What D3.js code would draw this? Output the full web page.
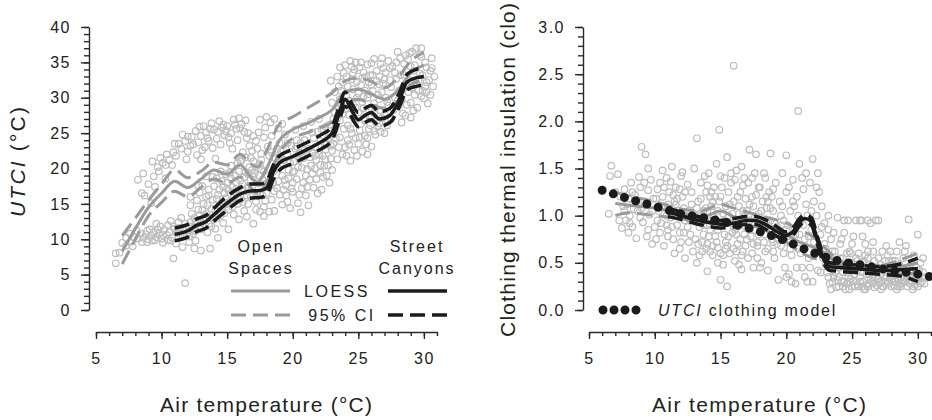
<!DOCTYPE html>
<html>
<head>
<meta charset="utf-8">
<script src="https://d3js.org/d3.v7.min.js"></script>
<style>
  body { margin: 0; background: #fff; }
  svg { font-family: "Liberation Sans", Arial, sans-serif; }
</style>
</head>
<body>
<svg id="chart" width="932" height="420"></svg>
<script>
// ---- data: UTCI panel ----
const utciPoints = [
  [6.5,8.0],[6.8,8.1],[6.5,6.6],[7.3,9.1],[7.6,9.6],[7.9,10.3],[8.2,10.1],[8.4,10.8],[7.8,9.0],[8.1,11.2],[7.6,10.8],
  [8.2,18.4],[8.6,19.3],[8.5,16.5],[8.7,16.2],[9.0,17.8],[9.3,21.0],[9.2,15.1],[9.5,17.4],[9.4,18.9],[9.9,21.5],[10.1,20.8],
  [10.4,22.0],[10.6,21.2],[10.9,22.3],[10.8,20.5],[11.3,23.5],[11.1,21.8],[9.8,19.6],[10.3,18.6],[11.5,22.8],[11.8,23.9],
  [12.0,22.4],[12.2,23.2],[11.9,21.3],
  [8.6,10.2],[8.8,10.7],[9.0,10.0],[9.2,10.5],[9.4,11.0],[9.6,10.3],[9.8,10.8],[10.0,10.1],[10.2,11.3],[10.4,10.6],[10.6,11.0],
  [10.8,10.2],[11.0,11.5],[11.2,10.9],[11.4,11.6],[11.6,10.4],[11.8,12.2],[12.0,11.0],[12.2,12.4],[12.4,11.6],[9.1,11.4],
  [9.9,11.8],[10.5,12.0],[11.3,12.4],[10.1,9.5],[11.1,9.4],[12.1,9.6],[11.6,8.9],[12.6,9.8],[10.9,7.3],[11.8,3.8],[13.0,8.4],
  [13.7,8.7],[12.5,8.7],[8.9,9.6],[9.5,9.9],[10.7,9.8],[11.9,10.7],
  [12.3,24.5],[12.6,25.3],[12.8,23.7],[13.0,24.6],[13.2,26.0],[13.4,25.1],[13.6,23.9],[13.8,26.4],[14.0,25.5],[14.2,24.2],
  [14.4,26.7],[14.6,25.8],[14.8,24.7],[15.0,26.0],[15.3,25.0],[15.5,26.9],[15.7,25.6],[15.9,27.1],[16.1,26.3],[16.3,25.2],
  [16.5,24.3],[16.7,23.2],[16.9,22.5],[13.1,22.6],[13.9,22.9],[14.5,23.4],[15.2,23.6],[15.8,24.0],[16.2,22.3],[16.8,21.5],
  [12.7,21.9],[14.1,21.4],[16.0,21.0],[17.2,23.9],[17.4,25.1],[17.6,22.1],[17.8,24.4],[18.0,27.3],[18.3,26.5],[18.6,27.0],
  [18.9,25.7],[19.2,26.3],[17.5,26.9],[18.1,23.1],[15.6,26.2],[14.9,25.3],[16.4,26.8],[13.5,24.3],
  [12.5,13.0],[12.8,14.2],[13.0,12.3],[13.2,15.0],[13.4,13.6],[13.6,16.2],[13.8,14.3],[14.0,12.8],[14.2,15.7],[14.4,17.0],
  [14.6,14.1],[14.8,16.5],[15.0,18.0],[15.2,15.3],[15.4,17.4],[15.6,19.0],[15.8,16.0],[16.0,18.3],[16.2,15.2],[16.4,19.5],
  [16.6,17.5],[16.8,16.0],[17.0,18.8],[17.2,15.3],[17.4,17.9],[17.6,19.9],[17.8,14.6],[18.0,16.5],[18.2,13.9],[18.4,15.6],
  [13.1,17.5],[13.9,18.8],[14.5,19.6],[15.3,20.4],[16.1,21.2],[14.1,11.5],[14.7,12.3],[15.5,13.5],[16.3,14.0],[17.0,12.2],
  [12.2,14.8],[12.9,16.6],[13.5,11.0],[14.3,10.2],[15.1,11.4],[15.9,12.8],[16.5,13.2],[17.5,13.9],[18.6,14.0],[18.8,17.2],
  [14.9,19.2],[15.7,17.1],[16.9,19.8],[13.3,13.1],[14.6,15.2],[16.3,16.8],[17.7,16.2],[15.1,14.2],
  [18.5,19.5],[18.7,21.4],[18.9,18.2],[19.1,20.6],[19.3,22.5],[19.5,17.6],[19.7,19.8],[19.9,23.2],[20.1,21.0],[20.3,18.5],
  [20.5,22.2],[20.7,20.1],[20.9,24.0],[21.1,17.4],[21.3,21.6],[21.5,19.3],[21.7,23.0],[21.9,25.2],[22.1,20.5],[22.3,18.8],
  [22.5,22.7],[22.7,24.3],[22.9,21.4],[19.0,16.3],[19.6,15.3],[20.0,16.7],[20.4,15.1],[21.0,16.2],[21.6,17.3],[22.2,17.0],
  [22.6,19.0],[19.4,24.8],[20.2,25.5],[20.8,26.0],[21.4,26.6],[22.0,27.0],[22.8,26.2],[23.0,19.8],[19.8,14.4],[21.2,14.8],
  [20.6,13.8],[19.2,19.0],[20.0,19.5],[20.8,18.0],[21.8,21.2],[22.4,23.6],[19.6,21.9],
  [23.1,23.5],[23.3,26.0],[23.5,28.5],[23.7,31.0],[23.9,33.5],[24.1,30.2],[24.3,27.6],[24.5,25.0],[24.7,22.6],[24.9,32.3],
  [25.1,34.3],[25.3,29.4],[25.5,26.8],[25.7,24.3],[25.9,33.2],[26.1,31.0],[26.3,28.6],[26.5,25.9],[26.7,34.8],[26.9,32.0],
  [23.2,30.8],[23.4,33.0],[23.6,24.4],[23.8,22.0],[24.0,34.6],[24.2,24.0],[24.4,21.1],[24.6,29.0],[24.8,35.0],[25.0,23.5],
  [25.2,31.8],[25.4,33.6],[25.6,28.0],[25.8,30.5],[26.0,23.1],[26.2,35.5],[26.4,33.8],[26.6,29.8],[26.8,27.1],[27.0,25.0],
  [23.0,29.3],[23.8,27.7],[24.5,32.6],[25.3,22.4],[26.0,27.4],[26.6,31.9],[27.1,33.6],[27.3,28.9],[27.5,31.5],[27.2,26.1],
  [23.4,21.3],[24.1,21.8],[22.9,32.4],[24.7,34.0],[25.7,34.7],[24.2,26.1],[25.0,27.9],[26.2,25.3],[23.6,26.8],[25.5,31.0],
  [27.6,34.5],[27.8,30.0],[28.0,36.5],[28.2,33.2],[28.4,27.8],[28.6,31.9],[28.8,35.4],[29.0,29.3],[29.2,33.8],[29.4,37.0],
  [29.6,31.0],[29.8,35.8],[30.0,29.9],[30.2,34.3],[30.4,32.5],[30.6,35.6],[30.8,33.0],[28.1,28.9],[28.5,34.8],[28.9,32.5],
  [29.3,30.4],[29.7,36.1],[30.1,31.6],[30.5,30.4],[28.3,26.5],[27.9,32.7],[29.1,36.5],[29.9,33.2]
];
const utciPointsDense = [
  [12.3,11.8],[12.6,12.6],[12.9,13.4],[13.1,14.1],[13.3,12.0],[13.5,14.8],[13.7,13.0],[13.9,15.6],[14.1,14.0],[14.3,16.3],
  [14.5,13.4],[14.7,17.4],[14.9,15.8],[15.1,16.9],[15.3,18.6],[15.5,15.9],[15.7,18.0],[15.9,19.6],[16.1,17.0],[16.3,18.8],
  [16.5,16.2],[16.7,20.2],[16.9,17.2],[17.1,19.3],[17.3,16.6],[17.5,20.6],[17.7,18.4],[17.9,15.4],[18.1,19.0],[18.3,17.6],
  [12.4,10.8],[13.0,11.4],[13.6,12.2],[14.2,13.0],[14.8,13.7],[15.4,14.6],[16.0,15.6],[16.6,15.0],[17.2,14.2],[17.8,13.3],
  [12.7,15.5],[13.4,16.0],[14.0,17.5],[14.6,18.2],[15.2,19.4],[15.8,20.8],[16.4,21.6],[17.0,21.0],[17.6,21.2],[18.2,21.8],
  [12.4,23.4],[12.9,25.9],[13.3,23.0],[13.7,25.6],[14.3,25.2],[14.7,26.2],[15.1,24.4],[15.4,22.8],[16.0,25.7],[16.6,25.0],
  [17.0,24.6],[17.3,22.8],[17.9,25.8],[18.4,24.6],[13.0,21.3],[12.0,24.5],[11.6,24.8],[11.0,23.5],[10.3,20.5],[9.7,20.2],
  [18.6,16.8],[18.8,22.8],[19.0,21.7],[19.2,14.9],[19.4,18.4],[19.6,23.6],[19.8,20.8],[20.0,18.0],[20.2,22.8],[20.4,20.2],
  [20.6,23.6],[20.8,21.5],[21.0,19.0],[21.2,22.8],[21.4,20.4],[21.6,24.3],[21.8,18.5],[22.0,22.0],[22.2,25.6],[22.4,20.4],
  [22.6,23.4],[22.8,18.0],[23.0,22.5],[19.3,17.0],[19.9,17.2],[20.5,16.3],[21.1,19.9],[21.7,20.0],[22.3,21.8],[22.9,24.8],
  [20.3,24.0],[21.5,22.3],[22.1,23.9],[18.4,22.3],[19.0,23.6],
  [23.1,27.0],[23.3,24.2],[23.5,31.6],[23.7,28.8],[23.9,25.6],[24.1,33.0],[24.3,29.6],[24.5,34.4],[24.7,27.0],[24.9,30.0],
  [25.1,25.4],[25.3,32.8],[25.5,24.6],[25.7,30.0],[25.9,27.2],[26.1,33.2],[26.3,24.8],[26.5,30.4],[26.7,28.2],[26.9,34.2],
  [27.1,30.0],[27.3,35.2],[23.6,34.3],[24.4,35.2],[25.2,35.0],[26.0,34.9],[26.8,35.6],[23.2,25.4],[24.0,23.0],[24.8,24.3],
  [25.6,23.4],[26.4,26.8],[27.0,27.6],[24.6,31.2],[25.4,28.5],[26.2,29.2],[23.9,29.0],[25.0,33.0],[25.8,32.2],[26.6,33.0],
  [27.4,32.5],[27.7,28.3],[27.9,35.0],[28.1,31.0],[28.3,29.8],[28.5,33.2],[28.7,29.0],[28.9,36.3],[29.1,31.4],[29.3,34.6],
  [29.5,28.6],[29.7,33.4],[29.9,31.0],[30.1,35.0],[30.3,29.2],[30.5,33.8],[30.7,31.6],[28.6,27.5],[29.0,27.2],[29.4,32.0],
  [29.8,30.2],[30.2,32.2],[28.2,35.6],[28.8,30.8],
  [8.5,9.6],[8.9,11.2],[9.3,9.8],[9.7,11.4],[10.1,10.6],[10.5,9.9],[10.9,11.8],[11.3,10.2],[11.7,11.2],[12.1,10.4],
  [12.5,11.2],[9.6,12.2],[10.7,12.6],[11.5,13.0],[12.3,13.6],[7.3,10.2],[7.0,9.5]
];
const utciPointsCore = [
  [23.2,28.0],[23.4,27.1],[23.6,29.8],[23.8,32.2],[24.0,28.4],[24.2,31.6],[24.4,25.6],[24.6,33.5],[24.8,28.6],[25.0,30.6],
  [25.2,26.3],[25.4,30.2],[25.6,33.0],[25.8,25.6],[26.0,31.8],[26.2,27.8],[26.4,32.4],[26.6,26.4],[26.8,30.8],[27.0,32.6],
  [27.2,29.4],[27.4,34.2],[23.5,23.0],[24.3,23.4],[25.1,24.4],[25.9,26.1],[26.7,25.2],[27.5,27.0],[24.9,21.8],[25.7,22.0],
  [18.5,18.0],[18.9,20.0],[19.3,21.2],[19.7,18.6],[20.1,19.6],[20.5,21.2],[20.9,22.6],[21.3,18.4],[21.7,21.8],[22.1,19.4],
  [22.5,21.3],[22.9,23.2],[19.5,16.2],[20.7,17.2],[21.9,16.5],[22.7,20.4],[19.1,22.4],[20.3,23.1],[21.5,25.1],[22.5,25.9],
  [12.6,11.2],[13.2,12.8],[13.8,11.8],[14.4,14.8],[15.0,15.0],[15.6,16.6],[16.2,17.8],[16.8,18.4],[17.4,19.0],[18.0,17.9],
  [13.6,17.0],[14.2,18.6],[15.0,17.2],[15.8,15.0],[16.6,19.2],[17.2,20.2],[17.8,19.6],[12.2,16.0],[12.8,17.6],[13.4,18.9],
  [27.8,33.5],[28.4,31.2],[29.0,34.4],[29.6,32.4],[30.2,30.8],[28.0,29.6],[29.2,28.2],[30.6,34.2],[28.6,36.0],[29.8,37.0]
];

const openX    = [7, 8, 9, 10, 11, 12, 13, 14, 15, 16, 16.7, 17.3, 18, 19, 20, 21, 22, 23, 24, 25, 26, 27, 28, 29, 30];
const openFit  = [8.3, 11.5, 14.5, 16.5, 18.2, 17.3, 18.5, 19.8, 19.2, 20.5, 19.0, 18.0, 20.0, 24.0, 25.5, 26.3, 27.2, 28.3, 30.8, 31.2, 30.5, 29.8, 31.0, 33.5, 34.6];
const openUp   = [10.5, 13.0, 15.5, 17.8, 19.8, 18.7, 19.6, 20.9, 20.5, 22.0, 20.8, 20.2, 22.5, 26.3, 27.3, 28.4, 29.5, 30.7, 32.4, 32.8, 32.3, 31.4, 32.8, 35.2, 36.4];
const openLow  = [6.5, 10.0, 13.3, 15.2, 16.8, 16.0, 17.3, 18.5, 17.9, 18.8, 17.5, 16.5, 18.0, 22.3, 24.3, 25.0, 25.7, 26.6, 29.4, 29.8, 29.0, 28.5, 29.6, 31.8, 32.5];

const canyonX   = [11, 12, 12.7, 13.4, 14, 15, 16, 16.7, 17.5, 18, 18.5, 19, 20, 21, 22, 23, 23.5, 24, 24.5, 25, 25.5, 26, 26.6, 27.4, 28.2, 28.7, 29.4, 30];
const canyonFit = [10.7, 11.2, 12.0, 12.5, 13.5, 15.1, 16.4, 16.8, 16.9, 17.2, 19.4, 20.8, 21.7, 22.6, 23.6, 25.0, 27.5, 29.8, 28.2, 26.9, 27.5, 27.9, 27.0, 27.5, 30.0, 32.2, 32.8, 33.0];
const canyonUp  = [11.6, 12.1, 12.9, 13.4, 14.4, 16.1, 17.3, 17.8, 17.8, 18.2, 20.4, 21.8, 22.7, 23.6, 24.6, 26.0, 28.5, 30.8, 29.2, 27.9, 28.5, 28.9, 28.0, 28.5, 31.0, 33.3, 34.0, 34.2];
const canyonLow = [9.8, 10.3, 11.1, 11.6, 12.6, 14.1, 15.5, 15.8, 15.9, 16.2, 18.4, 19.8, 20.7, 21.6, 22.6, 24.0, 26.5, 28.8, 27.2, 25.9, 26.5, 26.9, 26.0, 26.5, 29.0, 31.1, 31.6, 31.8];

// ---- data: clothing panel ----
const cloPoints = [
  [6.6,1.42],[6.7,1.53],[6.5,1.02],[7.2,1.44],[7.4,1.2],[7.5,0.87],[7.7,1.28],[7.8,0.95],[7.9,1.12],[8.1,1.0],[8.2,1.35],
  [8.3,0.88],[8.5,1.22],[8.6,0.76],[8.7,1.05],[8.8,1.41],[8.9,1.3],[9.0,1.73],[9.1,0.93],[9.2,1.15],[9.3,1.65],[9.4,0.78],
  [9.5,1.27],[9.6,1.01],[9.7,1.38],[9.8,0.7],[9.9,1.18],[10.0,0.88],[8.0,1.18],[8.4,1.07],[9.5,1.5],[7.6,1.1],[10.1,0.75],[10.2,1.28],
  [10.3,1.05],[10.4,1.35],[10.5,0.92],[10.6,1.2],[10.7,0.68],[10.8,1.1],[10.9,1.4],[11.0,0.85],[11.1,1.25],[11.2,0.98],
  [11.3,1.52],[11.4,0.75],[11.5,1.15],[11.6,1.3],[11.7,0.9],[11.8,1.05],[11.9,0.65],[12.0,1.42],[12.1,1.2],[12.2,0.82],
  [12.3,0.55],[12.4,1.0],[12.5,1.33],[12.6,0.72],[12.7,0.95],[12.8,1.12],[12.9,0.62],[13.0,1.5],[10.6,1.48],[11.5,0.6],
  [12.1,1.46],[11.2,1.36],[10.9,1.0],[11.6,1.12],[12.3,1.25],[11.0,0.78],
  [13.1,0.75],[13.2,1.82],[13.2,0.5],[13.3,1.15],[13.4,0.88],[13.5,1.35],[13.6,0.62],[13.7,1.05],[13.8,0.95],[13.9,1.25],
  [14.0,0.41],[14.0,0.7],[14.1,1.45],[14.2,0.85],[14.3,1.1],[14.4,0.58],[14.5,1.3],[14.6,0.78],[14.7,1.55],[14.8,0.66],
  [14.9,1.91],[15.0,0.32],[15.0,1.2],[15.1,0.9],[15.2,0.48],[15.3,1.4],[15.4,0.72],[15.5,0.25],[15.5,1.62],[15.6,1.0],
  [15.7,0.6],[15.8,1.35],[15.9,0.82],[16.0,2.59],[16.0,1.15],[16.1,0.52],[16.2,1.48],[16.3,0.7],[16.4,0.95],[16.5,1.25],
  [16.6,0.43],[16.7,0.62],[16.8,1.4],[16.9,0.88],[17.0,1.05],[17.1,0.55],[17.2,1.7],[17.3,0.78],[17.4,1.2],[17.5,0.45],
  [17.6,0.98],[17.7,1.65],[17.8,0.68],[17.9,1.3],[18.0,0.85],[18.1,0.5],[18.2,1.15],[18.3,1.45],[18.4,0.62],[18.5,0.95],
  [18.6,0.42],[18.7,1.25],[18.8,1.66],[18.9,0.75],[19.0,1.05],[19.1,0.55],[19.2,1.35],[19.3,0.88],[19.4,0.32],[19.5,1.15],
  [19.6,0.68],[19.7,1.45],[19.8,0.95],[19.9,0.45],[20.0,1.25],[20.0,1.64],
  [13.5,1.0],[14.2,1.2],[14.8,1.05],[15.3,0.8],[15.8,0.92],[16.4,1.1],[17.0,0.75],[17.5,1.1],[18.2,0.9],[18.8,1.08],
  [19.4,0.75],[13.9,0.65],[14.6,0.9],[15.6,1.25],[16.7,1.32],[17.8,0.55],[19.0,0.62],[16.0,0.65],[14.3,0.95],[13.7,0.8],
  [15.0,0.6],[17.2,0.95],[18.5,1.2],[19.6,1.0],[16.2,0.8],[17.9,1.02],[14.0,1.05],[15.4,1.1],[18.9,0.85],[16.9,0.68],
  [20.1,0.72],[20.2,0.38],[20.3,1.05],[20.4,0.58],[20.5,1.38],[20.6,0.85],[20.7,0.28],[20.8,1.2],[20.9,2.11],[20.9,0.65],
  [21.0,1.55],[21.1,0.95],[21.2,0.45],[21.3,1.28],[21.4,0.75],[21.5,1.45],[21.6,1.0],[21.7,0.55],[21.8,1.35],[21.9,0.85],
  [22.0,1.6],[22.1,1.15],[22.2,0.65],[22.3,1.0],[22.4,0.42],[22.5,1.25],[22.6,0.8],[22.7,1.1],[22.8,0.55],[22.9,0.92],
  [20.4,0.3],[21.4,0.35],[22.0,0.3],[20.6,1.1],[21.0,0.8],
  [23.0,0.65],[23.1,0.4],[23.2,1.0],[23.3,0.28],[23.4,0.75],[23.5,0.52],[23.6,0.35],[23.7,0.62],[23.8,0.24],[23.9,0.98],
  [24.0,0.45],[24.1,0.7],[24.2,0.3],[24.3,0.55],[24.4,0.82],[24.5,0.22],[24.6,0.4],[24.7,0.95],[24.8,0.62],[24.9,0.33],
  [25.0,0.5],[25.1,0.78],[25.2,0.25],[25.3,0.95],[25.4,0.42],[25.5,0.6],[25.6,0.3],[25.7,0.95],[25.8,0.5],[25.9,0.22],
  [26.0,0.7],[26.1,0.38],[26.2,0.55],[26.3,0.28],[26.4,0.92],[26.5,0.45],[26.6,0.62],[26.7,0.24],[26.8,0.95],[26.9,0.4],
  [27.0,0.55],[27.1,0.3],[27.2,0.48],[27.3,0.62],[27.4,0.25],[27.5,0.42],[27.6,0.35],[27.7,0.58],[27.8,0.28],[27.9,0.45],
  [28.0,0.38],[28.1,0.52],[28.2,0.26],[28.3,0.42],[28.4,0.62],[28.5,0.33],[28.6,0.48],[28.7,0.25],[28.8,0.4],[28.9,0.55],
  [29.0,0.3],[29.1,0.68],[29.2,0.44],[29.3,0.96],[29.4,0.28],[29.5,0.5],[29.6,0.36],[29.7,0.58],[29.8,0.27],[29.9,0.45],
  [30.0,0.8],[30.1,0.33],[30.2,0.5],[30.4,0.4],[30.5,0.28],
  [23.5,0.3],[24.0,0.25],[24.6,0.5],[25.2,0.38],[25.8,0.3],[26.3,0.48],[26.9,0.26],[27.5,0.3],[28.0,0.25],[28.7,0.35],
  [29.4,0.4],[30.0,0.25],[24.3,0.4],[25.6,0.45],[27.2,0.38],[23.8,0.5],[26.0,0.58],[28.3,0.3],[29.8,0.38],[24.9,0.6],
  [26.6,0.35],[27.9,0.62],[24.6,0.28],[25.4,0.27],[26.2,0.25],[27.0,0.33],[28.5,0.45],[29.2,0.25]
];
const cloPointsDense = [
  [7.0,1.25],[7.3,0.95],[7.7,1.05],[8.0,0.82],[8.3,1.25],[8.6,1.15],[8.9,0.98],[9.2,1.35],[9.5,0.85],[9.8,1.05],
  [10.1,1.18],[10.4,0.82],[10.7,1.3],[11.0,1.12],[11.3,0.88],[11.6,1.0],[11.9,1.28],[12.2,1.08],[12.5,0.88],[12.8,1.25],
  [10.2,0.95],[11.4,1.22],[12.0,0.72],[12.6,1.05],[9.0,1.08],[8.1,0.92],
  [13.1,1.0],[13.3,0.7],[13.5,1.18],[13.7,0.9],[13.9,1.08],[14.1,0.78],[14.3,1.25],[14.5,0.98],[14.7,0.72],[14.9,1.15],
  [15.1,1.3],[15.3,0.95],[15.5,0.68],[15.7,1.12],[15.9,1.02],[16.1,0.85],[16.3,1.2],[16.5,0.75],[16.7,1.05],[16.9,1.18],
  [17.1,0.88],[17.3,1.0],[17.5,0.7],[17.7,1.22],[17.9,0.8],[18.1,1.05],[18.3,0.72],[18.5,1.08],[18.7,0.85],[18.9,1.2],
  [19.1,0.92],[19.3,0.7],[19.5,0.85],[19.7,1.1],[19.9,0.78],[13.4,0.58],[14.4,0.68],[15.2,0.58],[16.2,0.62],[17.4,0.6],
  [18.6,0.65],[19.8,0.6],[14.0,1.32],[15.0,1.42],[16.1,1.38],[17.1,1.35],[18.0,1.3],[19.0,1.28],[13.8,1.42],[16.6,1.52],
  [18.4,1.4],[17.6,1.45],[14.8,0.5],[16.4,0.48],[18.0,0.45],
  [20.1,0.9],[20.3,0.65],[20.5,1.15],[20.7,0.8],[20.9,1.0],[21.1,0.6],[21.3,0.9],[21.5,1.12],[21.7,0.78],[21.9,1.05],
  [22.1,0.72],[22.3,1.3],[22.5,0.62],[22.7,0.88],[22.9,0.7],[20.2,1.3],[21.2,1.4],[22.4,1.45],[20.8,0.45],[21.8,0.45],
  [22.6,0.4],[20.0,0.35],[21.6,0.3],
  [23.1,0.55],[23.3,0.45],[23.5,0.62],[23.7,0.4],[23.9,0.32],[24.1,0.55],[24.3,0.25],[24.5,0.48],[24.7,0.35],[24.9,0.45],
  [25.1,0.3],[25.3,0.55],[25.5,0.25],[25.7,0.4],[25.9,0.52],[26.1,0.27],[26.3,0.38],[26.5,0.3],[26.7,0.52],[26.9,0.33],
  [27.1,0.45],[27.3,0.25],[27.5,0.52],[27.7,0.3],[27.9,0.35],[28.1,0.3],[28.3,0.52],[28.5,0.25],[28.7,0.45],[28.9,0.32],
  [29.1,0.38],[29.3,0.3],[29.5,0.42],[29.7,0.25],[29.9,0.35],[30.1,0.42],[30.3,0.3],[30.5,0.35],[23.4,0.22],[24.8,0.22],
  [26.0,0.22],[27.2,0.22],[28.4,0.22],[29.6,0.22],[23.6,0.82],[24.2,0.75],[25.0,0.7],[25.8,0.78],[26.6,0.72],[27.6,0.68],
  [28.6,0.72],[23.2,0.85],[24.4,0.95],[25.6,0.95],[26.2,0.95],[27.0,0.95],[30.4,0.55],[29.0,0.62]
];
const cloPointsCore = [
  [23.2,0.35],[23.6,0.45],[24.0,0.35],[24.4,0.3],[24.8,0.5],[25.2,0.45],[25.6,0.35],[26.0,0.45],[26.4,0.32],[26.8,0.45],
  [27.2,0.3],[27.6,0.45],[28.0,0.32],[28.4,0.38],[28.8,0.28],[29.2,0.35],[29.6,0.3],[30.0,0.35],[23.4,0.55],[24.2,0.48],
  [25.0,0.25],[25.8,0.25],[26.6,0.28],[27.4,0.35],[28.2,0.45],[29.0,0.42],[29.8,0.32],[24.6,0.6],[25.4,0.52],[26.2,0.62],
  [27.0,0.42],[27.8,0.52],[28.6,0.28],[30.2,0.28],[23.0,0.48],[24.8,0.3],
  [13.2,1.08],[13.6,0.72],[14.0,0.9],[14.4,1.15],[14.8,0.85],[15.2,1.02],[15.6,0.78],[16.0,0.88],[16.4,1.02],[16.8,0.8],
  [17.2,1.12],[17.6,0.85],[18.0,0.98],[18.4,0.8],[18.8,0.95],[19.2,0.8],[19.6,0.9],[20.0,0.85],[14.2,0.62],[15.4,0.65],
  [16.6,0.58],[17.8,0.72],[19.0,0.72],[15.8,1.45],[17.4,1.4],[14.6,1.2],[18.6,1.15],
  [10.5,1.1],[11.1,1.05],[11.7,1.18],[12.3,0.95],[12.9,1.02],[10.9,0.9],[11.9,0.82],[12.7,0.8]
];

const cloOpenX   = [7, 8, 10, 12, 13.5, 15, 16, 18, 20, 21, 22, 23, 24, 25, 27, 28, 29, 30];
const cloOpenFit = [1.13, 1.11, 1.08, 1.02, 0.98, 1.05, 0.99, 0.93, 0.80, 0.72, 0.67, 0.60, 0.48, 0.45, 0.42, 0.44, 0.47, 0.50];
const cloOpenUp  = [1.25, 1.21, 1.15, 1.07, 1.05, 1.12, 1.08, 1.00, 0.92, 0.85, 0.78, 0.65, 0.52, 0.48, 0.46, 0.50, 0.55, 0.60];
const cloOpenLow = [1.00, 1.03, 1.00, 0.97, 0.92, 0.97, 0.92, 0.87, 0.72, 0.62, 0.55, 0.52, 0.44, 0.42, 0.40, 0.38, 0.38, 0.40];

const cloCanX   = [11, 12, 13, 14, 15, 16, 17, 17.6, 18.5, 19.3, 19.9, 20.5, 21.0, 21.4, 21.9, 22.4, 22.8, 23.3, 24, 25, 26, 27, 28, 29, 30];
const cloCanFit = [1.04, 1.00, 0.96, 0.93, 0.91, 0.92, 0.95, 0.95, 0.90, 0.83, 0.79, 0.83, 0.93, 0.97, 0.94, 0.72, 0.55, 0.46, 0.45, 0.44, 0.43, 0.42, 0.42, 0.43, 0.44];
const cloCanUp  = [1.08, 1.04, 1.00, 0.97, 0.95, 0.97, 0.99, 0.99, 0.95, 0.88, 0.83, 0.87, 0.97, 1.01, 0.98, 0.76, 0.59, 0.50, 0.49, 0.48, 0.47, 0.46, 0.47, 0.50, 0.55];
const cloCanLow = [0.99, 0.96, 0.92, 0.89, 0.87, 0.88, 0.91, 0.91, 0.85, 0.78, 0.75, 0.79, 0.89, 0.93, 0.90, 0.68, 0.51, 0.42, 0.41, 0.40, 0.39, 0.38, 0.37, 0.35, 0.30];

const modelX = [6, 8, 10, 12, 14, 16, 18, 20, 22, 24, 26, 28, 30, 31];
const modelY = [1.27, 1.18, 1.10, 1.02, 0.97, 0.91, 0.83, 0.73, 0.61, 0.52, 0.47, 0.42, 0.38, 0.35];

const xMajor = [5, 10, 15, 20, 25, 30];
const utciMajor = [0, 5, 10, 15, 20, 25, 30, 35, 40];
const cloMajor = [0, 0.5, 1, 1.5, 2, 2.5, 3];

// ---- drawing ----
const svg = d3.select("#chart");
const gray = "#9a9a9a", black = "#1b1b1b", ptColor = "#bdbdbd", axisColor = "#2a2a2a";

const lx = d3.scaleLinear().domain([5, 31]).range([96, 437]);
const ly = d3.scaleLinear().domain([0, 40]).range([310, 27]);
const rx = d3.scaleLinear().domain([5, 31]).range([589, 931]);
const ry = d3.scaleLinear().domain([0, 3]).range([310, 27]);

function drawAxes(x, y, yAxisX, yMajor, yMinor, fmt) {
  const gy = svg.append("g").attr("transform", "translate(" + yAxisX + ",0)");
  gy.call(d3.axisLeft(y).tickValues(yMinor).tickSize(5).tickFormat("").tickSizeOuter(0));
  const gy2 = svg.append("g").attr("transform", "translate(" + yAxisX + ",0)");
  gy2.call(d3.axisLeft(y).tickValues(yMajor).tickSize(8).tickPadding(10).tickFormat(fmt).tickSizeOuter(0));
  gy2.select(".domain").remove();

  const gx = svg.append("g").attr("transform", "translate(0,332)");
  gx.call(d3.axisBottom(x).tickValues(d3.range(5, 32, 1)).tickSize(4).tickFormat("").tickSizeOuter(0));
  const gx2 = svg.append("g").attr("transform", "translate(0,332)");
  gx2.call(d3.axisBottom(x).tickValues(xMajor).tickSize(7).tickPadding(14).tickFormat(d3.format("d")).tickSizeOuter(0));
  gx2.select(".domain").remove();

  [gy, gy2, gx, gx2].forEach(g => {
    g.selectAll("path, line").attr("stroke", axisColor).attr("stroke-width", 1.4);
    g.selectAll("text").attr("font-size", 16).attr("letter-spacing", 1.5)
      .attr("fill", "#222").attr("font-family", "Liberation Sans, Arial, sans-serif");
  });
}

drawAxes(lx, ly, 89, utciMajor, d3.range(0, 41, 1), d3.format("d"));
drawAxes(rx, ry, 583, cloMajor, d3.range(0, 30.5, 1).map(d => d / 10), d3.format(".1f"));

function scatter(pts, x, y) {
  svg.append("g").selectAll("circle").data(pts).join("circle")
    .attr("cx", d => x(d[0])).attr("cy", d => y(d[1])).attr("r", 3.3)
    .attr("fill", "none").attr("stroke", ptColor).attr("stroke-width", 1.2);
}

function curve(xs, ys, x, y, color, width, dash) {
  const line = d3.line().x(d => x(d[0])).y(d => y(d[1])).curve(d3.curveMonotoneX);
  const p = svg.append("path").datum(xs.map((v, i) => [v, ys[i]]))
    .attr("d", line).attr("fill", "none").attr("stroke", color).attr("stroke-width", width);
  if (dash) p.attr("stroke-dasharray", dash);
  return p;
}

// left panel
scatter(utciPoints.concat(utciPointsDense, utciPointsCore), lx, ly);
curve(openX, openUp, lx, ly, gray, 3, "15,7");
curve(openX, openLow, lx, ly, gray, 3, "15,7");
curve(openX, openFit, lx, ly, gray, 3);
curve(canyonX, canyonUp, lx, ly, black, 3.5, "15,7");
curve(canyonX, canyonLow, lx, ly, black, 3.5, "15,7");
curve(canyonX, canyonFit, lx, ly, black, 3.5);

// right panel
scatter(cloPoints.concat(cloPointsDense, cloPointsCore), rx, ry);
curve(cloOpenX, cloOpenUp, rx, ry, gray, 3, "15,7");
curve(cloOpenX, cloOpenLow, rx, ry, gray, 3, "15,7");
curve(cloOpenX, cloOpenFit, rx, ry, gray, 3);
curve(cloCanX, cloCanUp, rx, ry, black, 3.5, "15,7");
curve(cloCanX, cloCanLow, rx, ry, black, 3.5, "15,7");
curve(cloCanX, cloCanFit, rx, ry, black, 3.5);
curve(modelX, modelY, rx, ry, black, 9, "0,11.7").attr("stroke-linecap", "round");

// titles
function label(txt, x, y, size, anchor, opts) {
  const t = svg.append("text").attr("x", x).attr("y", y).attr("font-size", size)
    .attr("text-anchor", anchor || "middle").attr("dominant-baseline", "central").attr("fill", "#222");
  if (opts && opts.rotate) t.attr("transform", "rotate(-90," + x + "," + y + ")");
  if (opts && opts.len) t.attr("textLength", opts.len).attr("lengthAdjust", "spacing");
  if (opts && opts.ls) t.attr("letter-spacing", opts.ls);
  if (Array.isArray(txt)) {
    txt.forEach(s => t.append("tspan").text(s[0]).attr("font-style", s[1] ? "italic" : null));
  } else t.text(txt);
  return t;
}

label("Air temperature (°C)", 266, 404, 21, "middle", { len: 212 });
label("Air temperature (°C)", 759, 404, 21, "middle", { len: 214 });
label([["UTCI", true], [" (°C)", false]], 17, 162, 21, "middle", { rotate: true, len: 110 });
label("Clothing thermal insulation (clo)", 507, 170, 21, "middle", { rotate: true, len: 334 });

// left legend
label("Open", 261, 246, 16, "middle", { ls: 2 });
label("Spaces", 261, 268, 16, "middle", { ls: 2 });
label("Street", 417, 246, 16, "middle", { ls: 2 });
label("Canyons", 417, 268, 16, "middle", { ls: 2 });
label("LOESS", 337, 291, 16, "middle", { ls: 2.5 });
label("95% CI", 342, 315, 16, "middle", { ls: 2.5 });
const legLines = [
  [231, 290, 291, gray, 3, null], [388, 447, 291, black, 3.5, null],
  [231, 290, 315, gray, 3, "15,7"], [388, 447, 315, black, 3.5, "15,7"]
];
legLines.forEach(l => {
  const ln = svg.append("line").attr("x1", l[0]).attr("x2", l[1]).attr("y1", l[2]).attr("y2", l[2])
    .attr("stroke", l[3]).attr("stroke-width", l[4]);
  if (l[5]) ln.attr("stroke-dasharray", l[5]);
});

// right legend
svg.append("line").attr("x1", 603).attr("x2", 637).attr("y1", 310).attr("y2", 310)
  .attr("stroke", black).attr("stroke-width", 9).attr("stroke-linecap", "round")
  .attr("stroke-dasharray", "0,11");
label([["UTCI", true], [" clothing model", false]], 658, 310, 16, "start", { ls: 1.8 });
</script>
</body>
</html>
